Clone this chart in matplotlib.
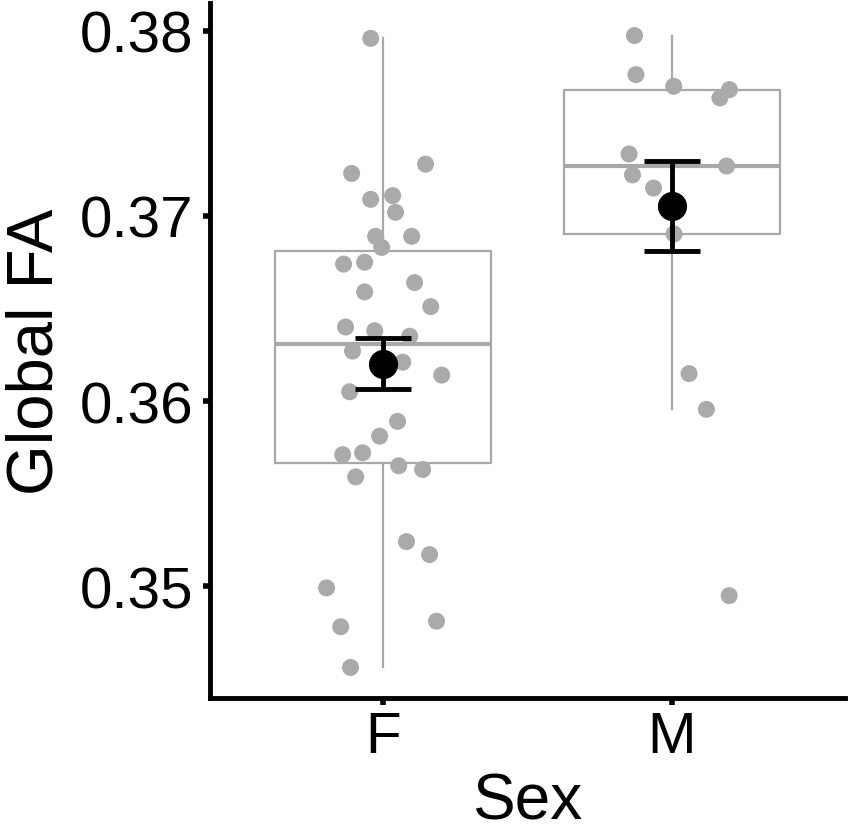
import numpy as np
import matplotlib
matplotlib.use("Agg")
import matplotlib.pyplot as plt

plt.rcParams['font.family'] = ['Liberation Sans', 'DejaVu Sans']

categories = ["F", "M"]

fa_F = [0.3796, 0.3723, 0.3728, 0.3709, 0.3711, 0.3702, 0.3689, 0.3689, 0.3683,
        0.3674, 0.3675, 0.3664, 0.3659, 0.3651, 0.3640, 0.3638, 0.3635, 0.3627,
        0.3621, 0.3614, 0.3605, 0.3589, 0.3581, 0.3571, 0.3572, 0.3565, 0.3563,
        0.3559, 0.3524, 0.3517, 0.3499, 0.3481, 0.3478, 0.3456]
jitter_F = [-0.043, -0.109, 0.147, -0.043, 0.033, 0.043, -0.026, 0.099, -0.005,
            -0.137, -0.064, 0.109, -0.064, 0.165, -0.130, -0.029, 0.092, -0.106,
            0.068, 0.203, -0.116, 0.050, -0.012, -0.140, -0.071, 0.054, 0.137,
            -0.095, 0.081, 0.161, -0.196, 0.185, -0.147, -0.113]

fa_M = [0.37975, 0.37764, 0.37701, 0.37683, 0.37638, 0.37335, 0.37222, 0.37151,
        0.37270, 0.36903, 0.36148, 0.35955, 0.34948]
jitter_M = [-0.129, -0.124, 0.007, 0.200, 0.167, -0.148, -0.136, -0.063, 0.190,
            0.008, 0.060, 0.120, 0.199]

y_ticks = [0.35, 0.36, 0.37, 0.38]
y_tick_labels = ["0.35", "0.36", "0.37", "0.38"]

groups = [np.array(fa_F), np.array(fa_M)]
jitters = [np.array(jitter_F), np.array(jitter_M)]
positions = np.arange(1, len(categories) + 1)

fig = plt.figure(figsize=(8.5, 8.37), dpi=100)
ax = fig.add_axes([0.247, 0.1649, 0.747, 0.8303])

box_col = '#a8a8a8'
pt_col = '#aaaaaa'

ax.boxplot(groups, positions=positions, widths=0.75, showfliers=False,
           whis=1.5, manage_ticks=False,
           boxprops=dict(color=box_col, linewidth=1.6),
           whiskerprops=dict(color=box_col, linewidth=1.6),
           capprops=dict(linewidth=0),
           medianprops=dict(color=box_col, linewidth=3.0),
           zorder=1)

for pos, vals, jit in zip(positions, groups, jitters):
    ax.scatter(pos + jit, vals, s=150, color=pt_col, edgecolors='none', zorder=2)

means = np.array([g.mean() for g in groups])
ses = np.array([g.std(ddof=1) / np.sqrt(len(g)) for g in groups])
ax.errorbar(positions, means, yerr=ses, fmt='o', color='black', ms=20,
            elinewidth=3.5, capsize=20.5, capthick=3.5, zorder=3)

ax.set_xlim(0.4, 2.6)
ax.set_ylim(0.34395, 0.38151)
ax.set_xticks(positions)
ax.set_xticklabels(categories)
ax.set_yticks(y_ticks)
ax.set_yticklabels(y_tick_labels)

for s in ['top', 'right']:
    ax.spines[s].set_visible(False)
for s in ['left', 'bottom']:
    ax.spines[s].set_linewidth(3.5)
    ax.spines[s].set_color('black')

ax.tick_params(axis='both', length=5, width=4, color='black', labelsize=42,
               labelcolor='black')
ax.tick_params(axis='y', pad=7)
ax.tick_params(axis='x', pad=4)

ax.set_xlabel('Sex', fontsize=46, labelpad=5)
ax.set_ylabel('Global FA', fontsize=47, labelpad=10)

fig.savefig('out.png', dpi=100, facecolor='white')
